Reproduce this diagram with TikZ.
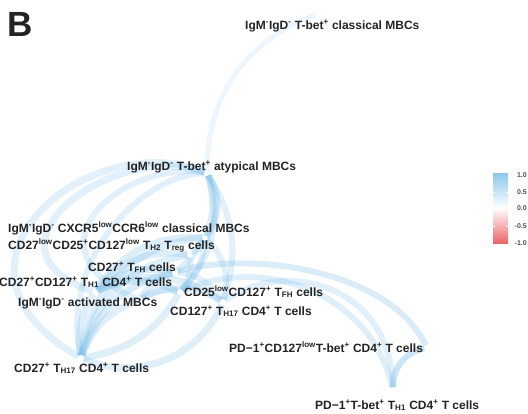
\documentclass[tikz,border=0pt]{standalone}
\usepackage{fontspec}
\setmainfont{Liberation Sans}
\usetikzlibrary{backgrounds}
\definecolor{eb}{RGB}{105,180,228}
\definecolor{cbblue}{RGB}{140,200,235}
\definecolor{cbred}{RGB}{235,100,105}
\definecolor{txt}{RGB}{35,35,35}
\newcommand{\sps}[1]{\textsuperscript{#1}}
\newcommand{\sbs}[1]{\textsubscript{#1}}
\begin{document}
\begin{tikzpicture}[x=1pt,y=-1pt,
  dot/.style={circle,fill=white,inner sep=0pt,minimum size=5pt},
  lab/.style={anchor=base west,inner sep=0pt,font=\fontsize{12}{13}\selectfont\bfseries,text=txt},
  ed/.style 2 args={draw=eb,line width=#1,draw opacity=#2},
  tick/.style={anchor=east,inner sep=0pt,font=\fontsize{7}{8}\selectfont\bfseries,text=txt!80}]
\useasboundingbox (0,0) rectangle (528,413);
% nodes
\node[dot] (A) at (318,14) {};
\node[dot] (B) at (207,173) {};
\node[dot] (C) at (205,238) {};
\node[dot] (D) at (190,255) {};
\node[dot] (E) at (175,272) {};
\node[dot] (F) at (95,292) {};
\node[dot] (G) at (140,300) {};
\node[dot] (H) at (180,292) {};
\node[dot] (I) at (223,302) {};
\node[dot] (J) at (81,358) {};
\node[dot] (K) at (427,348) {};
\node[dot] (L) at (393,390) {};
% edges
\begin{scope}[on background layer]
\draw[ed={5}{.12}] (A) to[bend right=35] (B);
% big loops on the left
\draw[ed={7}{.2}] (B) .. controls (90,125) and (-80,265) .. (J);
\draw[ed={7}{.2}] (B) .. controls (110,140) and (-30,250) .. (F);
\draw[ed={6}{.2}] (B) .. controls (120,160) and (20,250) .. (G);
\draw[ed={6}{.2}] (B) .. controls (140,175) and (60,260) .. (J);
% from B down the right side
\draw[ed={6}{.22}] (B) to[bend left=35] (E);
\draw[ed={6}{.22}] (B) to[bend left=30] (H);
\draw[ed={6}{.2}] (B) to[bend left=25] (I);
\draw[ed={6}{.2}] (B) to[bend left=35] (C);
\draw[ed={6}{.2}] (B) to[bend left=40] (D);
% centre fan
\draw[ed={7}{.22}] (C) to[bend right=30] (F);
\draw[ed={7}{.22}] (C) to[bend right=40] (J);
\draw[ed={7}{.22}] (D) to[bend right=30] (F);
\draw[ed={7}{.22}] (D) to[bend right=35] (J);
\draw[ed={7}{.25}] (E) to[bend right=25] (F);
\draw[ed={7}{.25}] (E) to[bend right=30] (J);
\draw[ed={7}{.22}] (E) to[bend right=20] (G);
\draw[ed={7}{.22}] (F) to[bend left=25] (H);
\draw[ed={7}{.22}] (F) to[bend left=30] (I);
\draw[ed={7}{.22}] (G) to[bend left=25] (H);
\draw[ed={6}{.2}] (G) to[bend left=30] (I);
\draw[ed={7}{.22}] (J) to[bend left=25] (G);
\draw[ed={7}{.22}] (J) to[bend left=20] (F);
\draw[ed={7}{.22}] (J) to[bend right=25] (H);
\draw[ed={7}{.22}] (J) to[bend right=45] (I);
\draw[ed={6}{.2}] (D) to[bend left=20] (H);
\draw[ed={6}{.2}] (C) to[bend left=20] (H);
\draw[ed={6}{.2}] (E) to[bend left=25] (I);
\draw[ed={6}{.2}] (C) to[bend left=30] (I);
% right arcs
\draw[ed={6}{.25}] (E) .. controls (250,250) and (390,270) .. (K);
\draw[ed={6}{.22}] (H) .. controls (260,255) and (370,290) .. (L);
\draw[ed={6}{.2}] (I) .. controls (280,260) and (390,280) .. (L);
\draw[ed={6}{.35}] (L) to[bend left=40] (K);
\end{scope}
% labels
\node[lab] (lA) at (245,29) {IgM\sps{-}IgD\sps{-} T-bet\sps{+} classical MBCs};
\node[lab] (lB) at (127,170) {IgM\sps{-}IgD\sps{-} T-bet\sps{+} atypical MBCs};
\node[lab] (lC) at (8,232) {IgM\sps{-}IgD\sps{-} CXCR5\sps{low}CCR6\sps{low} classical MBCs};
\node[lab] (lD) at (8,249) {CD27\sps{low}CD25\sps{+}CD127\sps{low} T\sbs{H2} T\sbs{reg} cells};
\node[lab] (lE) at (88,271) {CD27\sps{+} T\sbs{FH} cells};
\node[lab] (lF) at (-1,286) {CD27\sps{+}CD127\sps{+} T\sbs{H1} CD4\sps{+} T cells};
\node[lab] (lG) at (18,306) {IgM\sps{-}IgD\sps{-} activated MBCs};
\node[lab] (lH) at (184,296) {CD25\sps{low}CD127\sps{+} T\sbs{FH} cells};
\node[lab] (lI) at (170,315) {CD127\sps{+} T\sbs{H17} CD4\sps{+} T cells};
\node[lab] (lJ) at (14,372) {CD27\sps{+} T\sbs{H17} CD4\sps{+} T cells};
\node[lab] (lK) at (229,352) {PD−1\sps{+}CD127\sps{low}T-bet\sps{+} CD4\sps{+} T cells};
\node[lab] (lL) at (315,409) {PD−1\sps{+}T-bet\sps{+} T\sbs{H1} CD4\sps{+} T cells};
% panel letter
\node[anchor=north west,inner sep=0pt,text=txt,font=\fontsize{35}{35}\selectfont\bfseries] (pl) at (7,12) {B};
% colour bar
\shade[top color=cbblue,bottom color=white] (493,173) rectangle (508,208);
\shade[top color=white,bottom color=cbred] (493,208) rectangle (508,243);
\foreach \yy/\tt in {175/1.0,192/0.5,208/0.0,226/-0.5,243/-1.0}{
  \node[tick] at (527,\yy) {\tt};
}
\foreach \yy in {192,226}{
  \draw[white,line width=.6pt] (493,\yy) -- (495,\yy) (506,\yy) -- (508,\yy);
}
\end{tikzpicture}
\end{document}
